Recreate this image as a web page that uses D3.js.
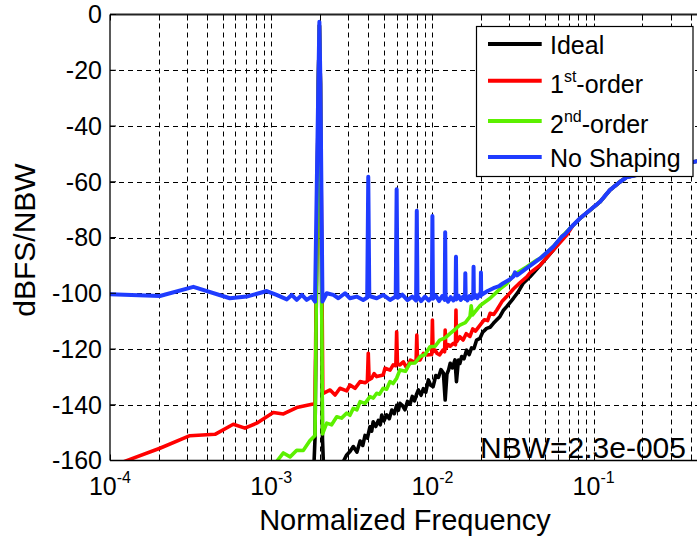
<!DOCTYPE html>
<html><head><meta charset="utf-8">
<script src="https://cdn.jsdelivr.net/npm/d3@7"></script>
<style>body{margin:0;background:#fff}svg{display:block}text{font-family:"Liberation Sans",Arial,sans-serif;fill:#000}</style>
</head><body><div id="chart"></div>
<script>
// ---- data: [normalized frequency, dBFS/NBW] ----
const idealData = [[1.80e-3,-175],[1.87e-3,-152.0],[1.96e-3,-25],[1.99e-3,-4],[2.02e-3,-25],[2.08e-3,-152.0],[2.15e-3,-175],[2.60e-3,-168],[2.80e-3,-160.4],[2.94e-3,-158.0],[3.08e-3,-156.8],[3.23e-3,-155.0],[3.40e-3,-157.0],[3.56e-3,-153.0],[3.70e-3,-154.6],[3.82e-3,-151.0],[3.95e-3,-152.0],[4.10e-3,-147.9],[4.20e-3,-149.5],[4.29e-3,-146.1],[4.45e-3,-147.8],[4.62e-3,-145.6],[4.75e-3,-147.2],[4.85e-3,-143.7],[5.00e-3,-145.8],[5.20e-3,-143.6],[5.40e-3,-145.0],[5.60e-3,-141.9],[5.80e-3,-143.2],[6.00e-3,-140.2],[6.15e-3,-142.0],[6.29e-3,-139.5],[6.50e-3,-140.2],[6.76e-3,-141.8],[7.00e-3,-138.8],[7.26e-3,-139.8],[7.50e-3,-137.0],[7.75e-3,-138.6],[8.00e-3,-136.0],[8.18e-3,-134.7],[8.50e-3,-136.6],[8.79e-3,-134.2],[9.10e-3,-135.5],[9.44e-3,-131.1],[9.75e-3,-133.0],[1.01e-2,-133.5],[1.05e-2,-129.5],[1.09e-2,-130.2],[1.13e-2,-127.4],[1.17e-2,-128.6],[1.20e-2,-138.3],[1.23e-2,-129.0],[1.26e-2,-127.5],[1.29e-2,-125.1],[1.33e-2,-126.8],[1.38e-2,-123.9],[1.41e-2,-131.7],[1.45e-2,-124.0],[1.48e-2,-125.2],[1.52e-2,-122.7],[1.57e-2,-123.5],[1.63e-2,-120.4],[1.69e-2,-122.0],[1.75e-2,-119.6],[1.81e-2,-119.8],[1.88e-2,-116.8],[1.97e-2,-116.2],[2.05e-2,-114.0],[2.17e-2,-112.6],[2.28e-2,-112.2],[2.39e-2,-110.8],[2.50e-2,-109.6],[2.62e-2,-108.4],[2.75e-2,-106.2],[2.89e-2,-104.8],[3.18e-2,-101.8],[3.40e-2,-99.6],[3.66e-2,-96.4],[4.03e-2,-94.1],[4.66e-2,-90.0],[5.62e-2,-84.5],[6.34e-2,-80.5],[7.48e-2,-75.5],[8.24e-2,-73.1],[1.10e-1,-67.1],[1.26e-1,-63.0],[1.46e-1,-60.0],[1.60e-1,-58.4],[2.24e-1,-56.5],[3.20e-1,-54.5],[4.14e-1,-52.9],[5.00e-1,-52.0]];

const firstOrderData = [[1.00e-4,-166],[1.22e-4,-160.4],[2.04e-4,-155.6],[3.13e-4,-151.1],[4.48e-4,-150.6],[5.82e-4,-147.0],[6.87e-4,-148.4],[8.13e-4,-146.6],[1.03e-3,-142.8],[1.19e-3,-143.3],[1.44e-3,-141.0],[1.82e-3,-139.7],[1.87e-3,-139.5],[1.96e-3,-25],[1.99e-3,-4],[2.02e-3,-25],[2.09e-3,-136.0],[2.32e-3,-134.7],[2.49e-3,-136.5],[2.67e-3,-134.1],[2.94e-3,-135.0],[3.08e-3,-132.9],[3.31e-3,-134.1],[3.56e-3,-131.7],[3.82e-3,-132.1],[3.95e-3,-131.5],[4.00e-3,-121.5],[4.05e-3,-131.0],[4.20e-3,-130.5],[4.35e-3,-128.8],[4.51e-3,-129.9],[4.95e-3,-129.3],[5.08e-3,-126.9],[5.46e-3,-127.6],[5.71e-3,-125.7],[5.93e-3,-126.0],[6.00e-3,-113.8],[6.07e-3,-125.5],[6.29e-3,-125.7],[6.60e-3,-124.6],[6.94e-3,-126.9],[7.30e-3,-124.0],[7.62e-3,-124.5],[7.92e-3,-124.5],[8.00e-3,-115.0],[8.08e-3,-124.0],[8.38e-3,-123.9],[8.80e-3,-121.6],[9.22e-3,-122.1],[9.90e-3,-122.0],[1.00e-2,-109.6],[1.01e-2,-121.0],[1.04e-2,-120.4],[1.07e-2,-121.6],[1.11e-2,-122.1],[1.16e-2,-120.4],[1.19e-2,-121.0],[1.20e-2,-113.2],[1.21e-2,-120.0],[1.25e-2,-118.4],[1.29e-2,-119.0],[1.35e-2,-118.0],[1.39e-2,-118.5],[1.40e-2,-106.0],[1.41e-2,-117.5],[1.48e-2,-115.6],[1.55e-2,-116.8],[1.62e-2,-114.5],[1.71e-2,-115.5],[1.78e-2,-112.8],[1.85e-2,-113.6],[1.97e-2,-111.5],[2.10e-2,-109.5],[2.20e-2,-109.8],[2.28e-2,-107.2],[2.40e-2,-107.6],[2.51e-2,-106.0],[2.70e-2,-103.0],[2.89e-2,-101.2],[3.18e-2,-98.5],[3.50e-2,-96.2],[3.85e-2,-94.1],[4.03e-2,-92.7],[4.66e-2,-89.9],[5.62e-2,-84.5],[6.81e-2,-79.1],[7.48e-2,-75.5],[8.24e-2,-73.1],[1.10e-1,-67.1],[1.26e-1,-63.0],[1.46e-1,-60.0],[1.60e-1,-58.4],[2.24e-1,-56.5],[3.20e-1,-54.5],[4.14e-1,-52.9],[5.00e-1,-52.0]];

const secondOrderData = [[1.00e-3,-166],[1.08e-3,-160.4],[1.19e-3,-157.3],[1.31e-3,-158.7],[1.44e-3,-156.3],[1.58e-3,-156.4],[1.74e-3,-152.8],[1.87e-3,-151.0],[1.96e-3,-25],[1.99e-3,-4],[2.02e-3,-25],[2.08e-3,-150.5],[2.21e-3,-146.6],[2.37e-3,-147.2],[2.55e-3,-144.3],[2.73e-3,-144.8],[2.94e-3,-143.0],[3.08e-3,-143.8],[3.23e-3,-141.3],[3.40e-3,-141.8],[3.56e-3,-138.9],[3.82e-3,-139.5],[4.10e-3,-137.1],[4.30e-3,-137.6],[4.51e-3,-135.9],[4.70e-3,-136.2],[4.95e-3,-134.1],[5.20e-3,-134.4],[5.46e-3,-131.7],[5.70e-3,-132.4],[6.00e-3,-130.5],[6.29e-3,-127.5],[6.80e-3,-128.0],[7.26e-3,-125.1],[7.80e-3,-125.0],[8.38e-3,-122.7],[9.00e-3,-122.0],[9.66e-3,-119.2],[1.04e-2,-119.0],[1.11e-2,-116.8],[1.20e-2,-116.0],[1.29e-2,-114.4],[1.38e-2,-113.0],[1.48e-2,-111.4],[1.60e-2,-110.5],[1.71e-2,-108.4],[1.74e-2,-104.5],[1.77e-2,-107.8],[1.97e-2,-104.5],[2.28e-2,-101.8],[2.62e-2,-98.5],[2.90e-2,-96.5],[3.18e-2,-93.5],[3.85e-2,-90.5],[4.44e-2,-88.1],[4.66e-2,-87.5],[5.62e-2,-83.3],[6.34e-2,-79.7],[7.48e-2,-75.5],[8.24e-2,-73.1],[1.10e-1,-67.1],[1.26e-1,-63.0],[1.46e-1,-60.0],[1.60e-1,-58.4],[2.24e-1,-56.5],[3.20e-1,-54.5],[4.14e-1,-52.9],[5.00e-1,-52.0]];

const noShapingData = [[1.00e-4,-100.4],[2.04e-4,-101.0],[3.29e-4,-97.7],[5.54e-4,-101.8],[7.05e-4,-101.2],[9.38e-4,-99.2],[1.08e-3,-100.6],[1.25e-3,-102.2],[1.34e-3,-100.6],[1.44e-3,-102.4],[1.55e-3,-100.6],[1.66e-3,-102.4],[1.78e-3,-101.2],[1.87e-3,-103.0],[1.96e-3,-25],[1.99e-3,-2.6],[2.02e-3,-25],[2.08e-3,-103.0],[2.21e-3,-100.0],[2.43e-3,-100.6],[2.61e-3,-101.8],[2.87e-3,-100.0],[3.08e-3,-101.8],[3.39e-3,-101.2],[3.72e-3,-102.4],[3.94e-3,-101.5],[4.00e-3,-58.2],[4.06e-3,-101.0],[4.51e-3,-101.8],[4.95e-3,-100.6],[5.46e-3,-102.4],[5.92e-3,-101.2],[6.00e-3,-62.7],[6.08e-3,-101.6],[6.50e-3,-100.5],[7.00e-3,-102.5],[7.50e-3,-101.2],[7.92e-3,-102.6],[8.00e-3,-70.4],[8.08e-3,-101.0],[8.50e-3,-102.8],[9.00e-3,-101.2],[9.50e-3,-102.6],[9.92e-3,-101.4],[1.00e-2,-72.3],[1.008e-2,-102.0],[1.05e-2,-100.8],[1.10e-2,-102.8],[1.15e-2,-101.0],[1.192e-2,-102.4],[1.20e-2,-78.1],[1.208e-2,-101.2],[1.25e-2,-103.0],[1.30e-2,-101.4],[1.35e-2,-102.6],[1.392e-2,-101.0],[1.40e-2,-86.9],[1.408e-2,-102.2],[1.45e-2,-100.8],[1.50e-2,-102.4],[1.55e-2,-101.2],[1.592e-2,-102.0],[1.60e-2,-92.8],[1.608e-2,-101.0],[1.65e-2,-102.6],[1.70e-2,-101.0],[1.75e-2,-102.0],[1.792e-2,-101.2],[1.80e-2,-90.5],[1.808e-2,-101.6],[1.85e-2,-100.6],[1.90e-2,-101.8],[1.95e-2,-100.4],[1.992e-2,-101.0],[2.00e-2,-92.6],[2.008e-2,-100.6],[2.20e-2,-99.2],[2.39e-2,-98.2],[2.60e-2,-97.4],[2.75e-2,-96.4],[3.00e-2,-95.2],[3.18e-2,-94.0],[3.25e-2,-92.5],[3.35e-2,-93.6],[3.85e-2,-91.0],[4.66e-2,-87.5],[5.62e-2,-83.3],[6.34e-2,-79.7],[6.60e-2,-79.0],[7.48e-2,-75.5],[8.24e-2,-73.1],[1.10e-1,-67.1],[1.26e-1,-63.0],[1.46e-1,-60.0],[1.60e-1,-58.4],[2.24e-1,-56.5],[3.20e-1,-54.5],[4.14e-1,-52.9],[5.00e-1,-52.0]];

const seriesNames = ["Ideal", "1st-order", "2nd-order", "No Shaping"];
const seriesColors = ["#000000", "#ff0000", "#5cf000", "#1f3cff"];
const xDomain = [1e-4, 0.5];
const yDomain = [-160, 0];
const yTickValues = [0, -20, -40, -60, -80, -100, -120, -140, -160];
const xMajorExps = [-4, -3, -2, -1];
const xLabel = "Normalized Frequency";
const yLabel = "dBFS/NBW";
const nbwNote = "NBW=2.3e-005";

// ---- layout ----
const W = 697, H = 538;
const L = 110, T = 14.5, B = 460.5, R = 706.3;
const svg = d3.select("#chart").append("svg").attr("width", W).attr("height", H);
const x = d3.scaleLog().domain(xDomain).range([L, R]);
const y = d3.scaleLinear().domain(yDomain).range([B, T]);

svg.append("defs").append("clipPath").attr("id", "clip")
  .append("rect").attr("x", L).attr("y", T).attr("width", R - L).attr("height", B - T);

// grid
const xGridVals = [];
for (let e = -4; e <= -1; e++) for (let m = 1; m <= 9; m++) { const v = m * Math.pow(10, e); if (v <= xDomain[1]) xGridVals.push(v); }
const grid = svg.append("g").attr("stroke", "#000").attr("stroke-width", 1).attr("stroke-dasharray", "5,4").attr("fill", "none");
grid.selectAll("line.vx").data(xGridVals.filter(v => v > xDomain[0])).enter().append("line")
  .attr("x1", d => Math.round(x(d)) + 0.5).attr("x2", d => Math.round(x(d)) + 0.5).attr("y1", T).attr("y2", B);
grid.selectAll("line.hy").data(yTickValues.filter(v => v > -160 && v < 0)).enter().append("line")
  .attr("x1", L).attr("x2", R).attr("y1", d => Math.round(y(d)) + 0.5).attr("y2", d => Math.round(y(d)) + 0.5);

// lines
const line = d3.line().x(d => x(d[0])).y(d => y(d[1]));
const allSeries = [idealData, firstOrderData, secondOrderData, noShapingData];
const widths = [3.6, 3.6, 3.6, 4];
const plot = svg.append("g").attr("clip-path", "url(#clip)");
allSeries.forEach((s, i) => {
  plot.append("path").datum(s).attr("d", line).attr("fill", "none")
    .attr("stroke", seriesColors[i]).attr("stroke-width", widths[i]).attr("stroke-linejoin", "round");
});

// axes box & inward ticks
const ax = svg.append("g").attr("stroke", "#000").attr("fill", "none");
ax.append("line").attr("x1", L).attr("x2", R).attr("y1", B).attr("y2", B).attr("stroke-width", 1.3);
ax.append("line").attr("x1", L).attr("x2", R).attr("y1", T).attr("y2", T).attr("stroke-width", 2).attr("stroke", "#222");
ax.append("line").attr("x1", L).attr("x2", L).attr("y1", T).attr("y2", B).attr("stroke-width", 1.3);
const tk = 6;
xGridVals.forEach(v => {
  const px = Math.round(x(v)) + 0.5;
  ax.append("line").attr("x1", px).attr("x2", px).attr("y1", B).attr("y2", B - tk);
  ax.append("line").attr("x1", px).attr("x2", px).attr("y1", T).attr("y2", T + tk);
});
yTickValues.forEach(v => {
  ax.append("line").attr("x1", L).attr("x2", L + tk).attr("y1", y(v)).attr("y2", y(v));
});

// y tick labels
svg.append("g").selectAll("text").data(yTickValues).enter().append("text")
  .attr("x", 102).attr("y", d => y(d)).attr("dy", "0.35em").attr("text-anchor", "end")
  .attr("font-size", 25).text(d => d);

// x tick labels 10^n
xMajorExps.forEach(e => {
  const t = svg.append("text").attr("x", x(Math.pow(10, e))).attr("y", 495)
    .attr("text-anchor", "middle").attr("font-size", 25);
  t.append("tspan").text("10");
  t.append("tspan").attr("dy", -12).attr("font-size", 16).text(String(e));
});

// axis labels
svg.append("text").attr("x", 405).attr("y", 530).attr("text-anchor", "middle").attr("font-size", 29).text(xLabel);
svg.append("text").attr("transform", "translate(35,240) rotate(-90)").attr("text-anchor", "middle").attr("font-size", 30).text(yLabel);

// NBW annotation
svg.append("text").attr("x", 480).attr("y", 458).attr("font-size", 30).text(nbwNote);

// legend
const lg = svg.append("g");
lg.append("rect").attr("x", 476.5).attr("y", 26.5).attr("width", 216.5).attr("height", 150)
  .attr("fill", "#fff").attr("stroke", "#000").attr("stroke-width", 1.2);
const lineYs = [44, 80.7, 121, 157];
const textYs = [54, 93.3, 133.3, 166.7];
const labelParts = [["Ideal", null, ""], ["1", "st", "-order"], ["2", "nd", "-order"], ["No Shaping", null, ""]];
seriesNames.forEach((n, i) => {
  lg.append("line").attr("x1", 488).attr("x2", 541.7).attr("y1", lineYs[i]).attr("y2", lineYs[i])
    .attr("stroke", seriesColors[i]).attr("stroke-width", 4);
  const t = lg.append("text").attr("x", 550).attr("y", textYs[i]).attr("font-size", 25);
  const p = labelParts[i];
  t.append("tspan").text(p[0]);
  if (p[1]) {
    t.append("tspan").attr("dy", -11.6).attr("font-size", 16).text(p[1]);
    t.append("tspan").attr("dy", 11.6).text(p[2]);
  }
});
</script></body></html>
